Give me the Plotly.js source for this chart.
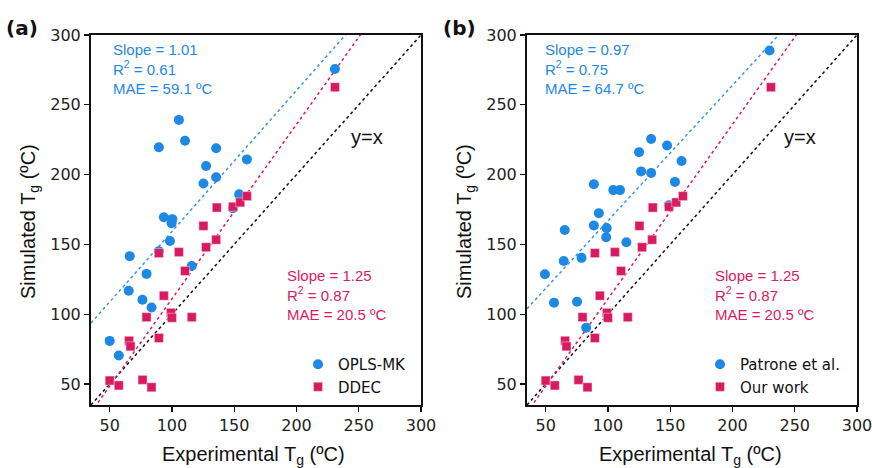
<!DOCTYPE html>
<html>
<head>
<meta charset="utf-8">
<script src="https://cdn.plot.ly/plotly-3.0.1.min.js"></script>
<style>html,body{margin:0;padding:0;background:#fff;}#chart{width:872px;height:468px;}</style>
</head>
<body>
<div id="chart"></div>
<script>
// Panel (a): OPLS-MK (blue circles)
const oplsX = [50, 57.3, 65.3, 66.1, 76.3, 79.6, 83.6, 89.5, 93.5, 100.3, 99.7, 98.4, 115.9, 89.5, 105.6, 110.5, 135.5, 127.4, 125.3, 135.5, 149, 154, 160.2, 230.9];
const oplsY = [80.9, 70.4, 116.8, 141.6, 110.4, 128.9, 104.8, 145.2, 169.5, 168.1, 165.2, 152.5, 134.6, 219.6, 239.2, 224.3, 218.9, 206.2, 193.6, 198.1, 175.9, 186, 210.9, 275.7];
// DDEC / Our work (pink squares) - same in both panels
const ddecX = [50, 57.3, 76.4, 83.6, 65.6, 66.7, 79.6, 89.5, 93.5, 99.2, 100, 115.9, 110.5, 89.5, 105.6, 127.4, 135.5, 125.3, 136, 149, 154.8, 160.2, 230.9];
const ddecY = [52.5, 49, 53, 47.7, 81, 77, 97.9, 83, 113.3, 101, 97.5, 97.9, 131, 143.8, 144.5, 148, 153.4, 163.3, 176.4, 177, 180.1, 184.6, 262.6];
// Panel (b): Patrone et al. (blue circles)
const patX = [49.4, 56.7, 64.5, 65.3, 75.2, 78.8, 82.5, 88.7, 88.7, 92.7, 98.6, 99, 104.3, 109.7, 114.8, 125, 126.6, 134.7, 134.7, 147.5, 153.8, 159.1, 229.8, 149];
const patY = [128.6, 108.3, 138.1, 160.3, 109, 140.4, 90.3, 163.6, 193.1, 172.4, 155.1, 161.7, 188.9, 188.9, 151.6, 216.1, 202.3, 225.5, 201.2, 220.8, 194.8, 209.7, 288.9, 178];
// fit lines: [slope, intercept]
const fitA_blue = [1.01, 58.3];
const fitB_blue = [0.97, 70];
const fit_pink = [1.25, -14];
const identity = [1, 0];
const tickVals = [50, 100, 150, 200, 250, 300];
const axRange = [35, 300];

const BLUE = '#1E88E5', PINK = '#D81B60';
const lineX = [axRange[0], axRange[1] + 40];
function fitY(f) { return lineX.map(x => f[0] * x + f[1]); }

function lineTrace(f, color, xa, ya) {
  return {x: lineX, y: fitY(f), mode: 'lines', xaxis: xa, yaxis: ya, showlegend: false, hoverinfo: 'skip',
    line: {color: color, width: 1.5, dash: 'dot'}};
}
function circTrace(x, y, name, xa, ya, lg) {
  return {x: x, y: y, mode: 'markers', name: name, xaxis: xa, yaxis: ya, legend: lg,
    marker: {symbol: 'circle', size: 10, color: BLUE}};
}
function sqTrace(x, y, name, xa, ya, lg) {
  return {x: x, y: y, mode: 'markers', name: name, xaxis: xa, yaxis: ya, legend: lg,
    marker: {symbol: 'square', size: 9, color: PINK, line: {color: 'rgba(255,220,230,0.8)', width: 0.6}}};
}

const data = [
  lineTrace(identity, '#111', 'x', 'y'),
  lineTrace(fit_pink, PINK, 'x', 'y'),
  lineTrace(fitA_blue, '#3b93e6', 'x', 'y'),
  circTrace(oplsX, oplsY, 'OPLS-MK', 'x', 'y', 'legend'),
  sqTrace(ddecX, ddecY, 'DDEC', 'x', 'y', 'legend'),
  lineTrace(identity, '#111', 'x2', 'y2'),
  lineTrace(fit_pink, PINK, 'x2', 'y2'),
  lineTrace(fitB_blue, '#3b93e6', 'x2', 'y2'),
  circTrace(patX, patY, 'Patrone et al.', 'x2', 'y2', 'legend2'),
  sqTrace(ddecX, ddecY, 'Our work', 'x2', 'y2', 'legend2')
];

const tickFont = {family: 'DejaVu Sans', size: 16, color: '#222'};
function axis(domain, anchor) {
  return {domain: domain, anchor: anchor, range: axRange, tickvals: tickVals, ticktext: tickVals.map(String),
    showgrid: false, zeroline: false, showline: true, mirror: true, linecolor: '#111', linewidth: 2,
    ticks: 'outside', ticklen: 5, tickwidth: 1.3, tickcolor: '#111', tickfont: tickFont, automargin: false,
    ticklabeloverflow: 'allow'};
}
const yDom = [1 - 405 / 468, 1 - 35 / 468];
const AF = 'Liberation Sans';
function statText(x, y, xr, yr, txt, color) {
  return {x: x, y: y, xref: xr, yref: yr, text: txt, showarrow: false, xanchor: 'left', yanchor: 'middle', align: 'left',
    font: {family: AF, size: 15, color: color}};
}
function paperText(px, py, txt, font, angle) {
  return {x: px / 872, y: 1 - py / 468, xref: 'paper', yref: 'paper', text: txt, showarrow: false,
    xanchor: 'center', yanchor: 'middle', textangle: angle || 0, font: font};
}
const titleFont = {family: AF, size: 20, color: '#111'};
const panelFont = {family: 'DejaVu Sans', size: 20, color: '#111'};
const annotations = [
  statText(51.4, 275.9, 'x', 'y', 'Slope = 1.01<br>R<sup>2</sup> = 0.61<br>MAE = 59.1 ºC', BLUE),
  statText(191, 113.8, 'x', 'y', 'Slope = 1.25<br>R<sup>2</sup> = 0.87<br>MAE = 20.5 ºC', PINK),
  statText(47.6, 275.9, 'x2', 'y2', 'Slope = 0.97<br>R<sup>2</sup> = 0.75<br>MAE = 64.7 ºC', BLUE),
  statText(184.1, 113.8, 'x2', 'y2', 'Slope = 1.25<br>R<sup>2</sup> = 0.87<br>MAE = 20.5 ºC', PINK),
  {x: 257, y: 226.7, xref: 'x', yref: 'y', text: 'y=x', showarrow: false, xanchor: 'center', yanchor: 'middle', font: titleFont},
  {x: 254, y: 226.7, xref: 'x2', yref: 'y2', text: 'y=x', showarrow: false, xanchor: 'center', yanchor: 'middle', font: titleFont},
  paperText(21.5, 28, '<b>(a)</b>', panelFont),
  paperText(459, 28, '<b>(b)</b>', panelFont),
  paperText(253, 455, 'Experimental T<sub>g</sub> (ºC)', titleFont),
  paperText(690, 455, 'Experimental T<sub>g</sub> (ºC)', titleFont),
  paperText(29, 222, 'Simulated T<sub>g</sub> (ºC)', titleFont, -90),
  paperText(465, 222, 'Simulated T<sub>g</sub> (ºC)', titleFont, -90)
];

const legFont = {family: 'DejaVu Sans', size: 15, color: '#111'};
const layout = {
  width: 872, height: 468, margin: {l: 0, r: 0, t: 0, b: 0},
  paper_bgcolor: '#fff', plot_bgcolor: '#fff',
  xaxis: axis([91 / 872, 421 / 872], 'y'),
  yaxis: axis(yDom, 'x'),
  xaxis2: axis([527 / 872, 857 / 872], 'y2'),
  yaxis2: axis(yDom, 'x2'),
  legend: {x: 298 / 872, y: 1 - 348 / 468, xanchor: 'left', yanchor: 'top', bgcolor: 'rgba(0,0,0,0)', font: legFont, tracegroupgap: 0},
  legend2: {x: 700 / 872, y: 1 - 348 / 468, xanchor: 'left', yanchor: 'top', bgcolor: 'rgba(0,0,0,0)', font: legFont, tracegroupgap: 0},
  annotations: annotations,
  showlegend: true
};
Plotly.newPlot('chart', data, layout, {staticPlot: true});
</script>
</body>
</html>
